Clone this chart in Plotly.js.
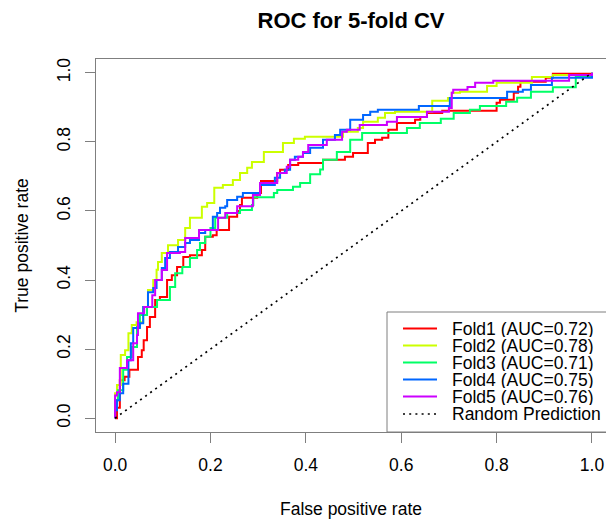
<!DOCTYPE html>
<html>
<head>
<meta charset="utf-8">
<script src="https://cdn.plot.ly/plotly-3.0.1.min.js"></script>
<style>html,body{margin:0;padding:0;background:#fff;}#chart{width:606px;height:519px;}</style>
</head>
<body>
<div id="chart"></div>
<script>
// ---- data ----
var seriesNames = ["Fold1 (AUC=0.72)", "Fold2 (AUC=0.78)", "Fold3 (AUC=0.71)", "Fold4 (AUC=0.75)", "Fold5 (AUC=0.76)"];
var randomName = "Random Prediction";
var seriesColors = ["#FF0000", "#CCFF00", "#00FF66", "#0066FF", "#CC00FF"];

var fold1Fpr = [0, 0.004, 0.01, 0.02, 0.03, 0.048, 0.056, 0.06, 0.067, 0.073, 0.084, 0.094, 0.109, 0.119, 0.13, 0.143, 0.157, 0.182, 0.189, 0.205, 0.213, 0.239, 0.256, 0.262, 0.266, 0.298, 0.306, 0.34, 0.346, 0.363, 0.384, 0.436, 0.482, 0.499, 0.53, 0.545, 0.56, 0.573, 0.591, 0.629, 0.64, 0.654, 0.686, 0.8, 0.807, 0.836, 0.845, 0.85, 0.903, 0.918, 1.0];
var fold1Tpr = [0, 0.03, 0.11, 0.12, 0.14, 0.177, 0.197, 0.226, 0.264, 0.293, 0.342, 0.351, 0.4, 0.414, 0.438, 0.467, 0.472, 0.487, 0.525, 0.53, 0.545, 0.583, 0.6, 0.617, 0.638, 0.652, 0.687, 0.71, 0.719, 0.733, 0.739, 0.748, 0.757, 0.768, 0.797, 0.806, 0.812, 0.835, 0.855, 0.864, 0.872, 0.884, 0.89, 0.913, 0.922, 0.942, 0.96, 0.974, 0.986, 0.997, 1.0];

var fold2Fpr = [0, 0, 0.004, 0.012, 0.021, 0.028, 0.035, 0.045, 0.059, 0.069, 0.08, 0.087, 0.09, 0.098, 0.111, 0.132, 0.147, 0.157, 0.182, 0.193, 0.208, 0.226, 0.247, 0.262, 0.277, 0.287, 0.312, 0.352, 0.375, 0.398, 0.478, 0.509, 0.52, 0.551, 0.566, 0.587, 0.665, 0.698, 0.706, 0.723, 0.78, 0.8, 0.874, 0.918, 1.0];
var fold2Tpr = [0, 0.072, 0.096, 0.183, 0.197, 0.246, 0.27, 0.278, 0.322, 0.371, 0.4, 0.43, 0.452, 0.478, 0.501, 0.516, 0.551, 0.58, 0.612, 0.623, 0.667, 0.675, 0.69, 0.71, 0.725, 0.742, 0.771, 0.797, 0.809, 0.815, 0.829, 0.84, 0.858, 0.87, 0.884, 0.887, 0.919, 0.927, 0.942, 0.945, 0.962, 0.971, 0.988, 0.994, 1.0];

var fold3Fpr = [0, 0, 0.006, 0.017, 0.025, 0.035, 0.046, 0.052, 0.067, 0.088, 0.115, 0.126, 0.141, 0.157, 0.172, 0.178, 0.189, 0.2, 0.21, 0.235, 0.262, 0.287, 0.29, 0.333, 0.34, 0.373, 0.388, 0.409, 0.43, 0.436, 0.465, 0.493, 0.518, 0.612, 0.639, 0.683, 0.71, 0.744, 0.765, 0.82, 0.843, 0.872, 0.918, 0.966, 1.0];
var fold3Tpr = [0, 0.052, 0.081, 0.14, 0.177, 0.206, 0.264, 0.299, 0.322, 0.342, 0.38, 0.42, 0.438, 0.464, 0.487, 0.507, 0.525, 0.551, 0.58, 0.594, 0.603, 0.617, 0.64, 0.652, 0.661, 0.67, 0.681, 0.706, 0.72, 0.748, 0.771, 0.806, 0.826, 0.84, 0.855, 0.867, 0.884, 0.893, 0.904, 0.916, 0.928, 0.945, 0.958, 0.99, 1.0];

var fold4Fpr = [0, 0, 0.004, 0.01, 0.017, 0.028, 0.033, 0.038, 0.052, 0.059, 0.069, 0.08, 0.087, 0.098, 0.105, 0.115, 0.132, 0.147, 0.157, 0.176, 0.189, 0.205, 0.214, 0.22, 0.231, 0.235, 0.256, 0.268, 0.304, 0.335, 0.346, 0.356, 0.367, 0.377, 0.394, 0.409, 0.436, 0.461, 0.472, 0.493, 0.52, 0.535, 0.551, 0.637, 0.702, 0.822, 0.855, 0.872, 0.916, 1.0, 1.0];
var fold4Tpr = [0, 0.023, 0.052, 0.072, 0.1, 0.168, 0.217, 0.261, 0.275, 0.322, 0.365, 0.377, 0.4, 0.435, 0.464, 0.481, 0.496, 0.507, 0.516, 0.536, 0.545, 0.583, 0.594, 0.609, 0.614, 0.632, 0.641, 0.652, 0.675, 0.696, 0.71, 0.719, 0.748, 0.757, 0.768, 0.783, 0.806, 0.82, 0.835, 0.864, 0.878, 0.887, 0.893, 0.904, 0.927, 0.945, 0.951, 0.965, 0.986, 0.994, 1.0];

var fold5Fpr = [0, 0, 0.004, 0.01, 0.025, 0.038, 0.046, 0.048, 0.061, 0.078, 0.084, 0.098, 0.109, 0.136, 0.147, 0.176, 0.216, 0.231, 0.256, 0.289, 0.304, 0.34, 0.36, 0.367, 0.384, 0.394, 0.405, 0.444, 0.476, 0.486, 0.513, 0.57, 0.591, 0.654, 0.7, 0.706, 0.709, 0.739, 0.755, 0.793, 0.952, 1.0];
var fold5Tpr = [0, 0.066, 0.075, 0.145, 0.168, 0.217, 0.241, 0.304, 0.322, 0.356, 0.4, 0.429, 0.478, 0.481, 0.522, 0.545, 0.58, 0.594, 0.614, 0.646, 0.681, 0.71, 0.728, 0.748, 0.757, 0.771, 0.791, 0.806, 0.829, 0.835, 0.849, 0.858, 0.872, 0.887, 0.898, 0.942, 0.951, 0.959, 0.971, 0.977, 0.994, 1.0];

var randomFpr = [0, 1];
var randomTpr = [0, 1];

var tickVals = [0, 0.2, 0.4, 0.6, 0.8, 1.0];
var tickText = ["0.0", "0.2", "0.4", "0.6", "0.8", "1.0"];

// ---- drawing ----
var W = 606, H = 519;
var M = {l: 96, r: 0, t: 59, b: 87};
var FONT = "Liberation Sans, Arial, sans-serif";
var FS = 17.5;
var BOX = "#7f7f7f";
var folds = [[fold1Fpr, fold1Tpr], [fold2Fpr, fold2Tpr], [fold3Fpr, fold3Tpr], [fold4Fpr, fold4Tpr], [fold5Fpr, fold5Tpr]];

var traces = folds.map(function (f, i) {
  return {x: f[0], y: f[1], type: "scatter", mode: "lines", name: seriesNames[i],
          line: {color: seriesColors[i], width: 2, shape: "hv"}, showlegend: false, hoverinfo: "skip"};
});
traces.push({x: randomFpr, y: randomTpr, type: "scatter", mode: "lines", name: randomName,
             line: {color: "#000000", width: 1.7, dash: "2px,4.2px"}, showlegend: false, hoverinfo: "skip"});

// manual legend (R style, bottom right)
function px2x(px) { return (px - M.l) / (W - M.l - M.r); }
function px2y(py) { return (H - M.b - py) / (H - M.t - M.b); }
var legNames = seriesNames.concat([randomName]);
var legColors = seriesColors.concat(["#000000"]);
var rowY = [328.5, 345.5, 362.5, 379.5, 396.5, 414];
var shapes = [{type: "rect", xref: "paper", yref: "paper", x0: px2x(387), x1: px2x(615), y0: px2y(432), y1: px2y(312),
               line: {color: BOX, width: 1}, fillcolor: "#ffffff", layer: "above"}];
var annotations = [];
legNames.forEach(function (n, i) {
  var last = i === legNames.length - 1;
  shapes.push({type: "line", xref: "paper", yref: "paper", x0: px2x(403), x1: px2x(437), y0: px2y(rowY[i]), y1: px2y(rowY[i]),
               line: {color: legColors[i], width: last ? 1.7 : 2, dash: last ? "2px,4.2px" : "solid"}, layer: "above"});
  annotations.push({xref: "paper", yref: "paper", x: px2x(451), y: px2y(rowY[i]), xanchor: "left", yanchor: "middle",
                    text: n, showarrow: false, height: 16, borderpad: 0, font: {family: FONT, size: FS, color: "#000"}});
});

var layout = {
  width: W, height: H, margin: M,
  paper_bgcolor: "#fff", plot_bgcolor: "#fff",
  font: {family: FONT, size: FS, color: "#000"},
  title: {text: "<b>ROC for 5-fold CV</b>", x: 0.5, xref: "paper", xanchor: "center", y: 1 - 20 / H, yref: "container", yanchor: "middle",
          font: {family: FONT, size: 22, color: "#000"}},
  xaxis: {range: [-0.04, 1.0294], tickvals: tickVals, ticktext: tickText, ticks: "outside", ticklen: 10, tickwidth: 1, tickcolor: BOX,
          ticklabelstandoff: 7,
          showline: true, linecolor: BOX, linewidth: 1, mirror: true, showgrid: false, zeroline: false,
          tickfont: {family: FONT, size: FS, color: "#000"},
          title: {text: "False positive rate", font: {family: FONT, size: FS, color: "#000"}, standoff: 30}},
  yaxis: {range: [-0.04, 1.04], tickvals: tickVals, ticktext: tickText, ticks: "outside", ticklen: 10, tickwidth: 1, tickcolor: BOX,
          ticklabelstandoff: 8,
          tickangle: -90, showline: true, linecolor: BOX, linewidth: 1, mirror: false, showgrid: false, zeroline: false,
          tickfont: {family: FONT, size: FS, color: "#000"},
          title: {text: "True positive rate", font: {family: FONT, size: FS, color: "#000"}, standoff: 20}},
  shapes: shapes, annotations: annotations, showlegend: false
};

Plotly.newPlot("chart", traces, layout, {staticPlot: true, displayModeBar: false});
</script>
</body>
</html>
